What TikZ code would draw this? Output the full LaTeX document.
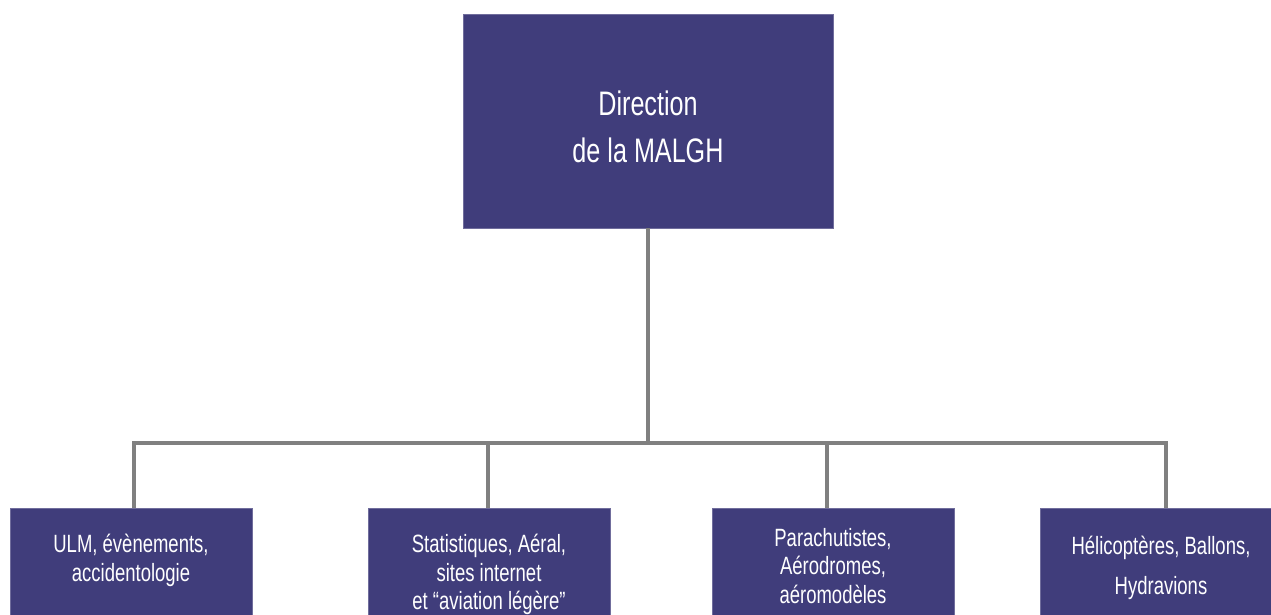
\documentclass[tikz,border=0pt]{standalone}
\usepackage{fontspec}
\setmainfont{Liberation Sans}[FakeStretch=0.74]
\usetikzlibrary{positioning}
\definecolor{malgh}{RGB}{64,61,123}
\definecolor{trait}{RGB}{128,128,128}
\begin{document}
\begin{tikzpicture}[x=1pt,y=-1pt,line join=miter,
    box/.style={fill=malgh,draw=malgh!75!white,line width=0.8pt,inner sep=0pt},
    pole/.style={box,minimum width=242pt,minimum height=140pt,anchor=north},
    txt/.style={text=white,align=center,inner sep=0pt,font=\fontsize{25}{28.5}\selectfont},
    link/.style={draw=trait,line width=4pt}]
  \useasboundingbox (0,0) rectangle (1271,615);
  \clip (0,0) rectangle (1271,615);

  % direction
  \node[box,minimum width=370pt,minimum height=214pt] (dir) at (648,121) {};
  \node[txt,below=77pt of dir.north,font=\fontsize{34}{47}\selectfont] (l0) {Direction\\de la MALGH};

  % poles
  \node[pole] (b1) at (131,508) {};
  \node[pole] (b2) at (489,508) {};
  \node[pole] (b3) at (833,508) {};
  \node[pole] (b4) at (1161,508) {};

  \node[txt,below=26pt of b1.north] (l1) {ULM, évènements,\\accidentologie};
  \node[txt,below=26pt of b2.north] (l2) {Statistiques, Aéral,\\sites internet\\et “aviation légère”};
  \node[txt,below=20pt of b3.north] (l3) {Parachutistes,\\Aérodromes,\\aéromodèles};
  \node[txt,below=28pt of b4.north,font=\fontsize{25}{40}\selectfont] (l4) {Hélicoptères, Ballons,\\Hydravions};

  % links
  \coordinate (bus) at (648,443);
  \coordinate (t1) at (134,443);
  \coordinate (t2) at (488,443);
  \coordinate (t3) at (827,443);
  \coordinate (t4) at (1166,443);
  \draw[link] (dir.south) -- (bus);
  \draw[link] (t1 |- b1.north) -- (t1) -- (t4) -- (t4 |- b4.north);
  \draw[link] (t2) -- (t2 |- b2.north);
  \draw[link] (t3) -- (t3 |- b3.north);
\end{tikzpicture}
\end{document}
